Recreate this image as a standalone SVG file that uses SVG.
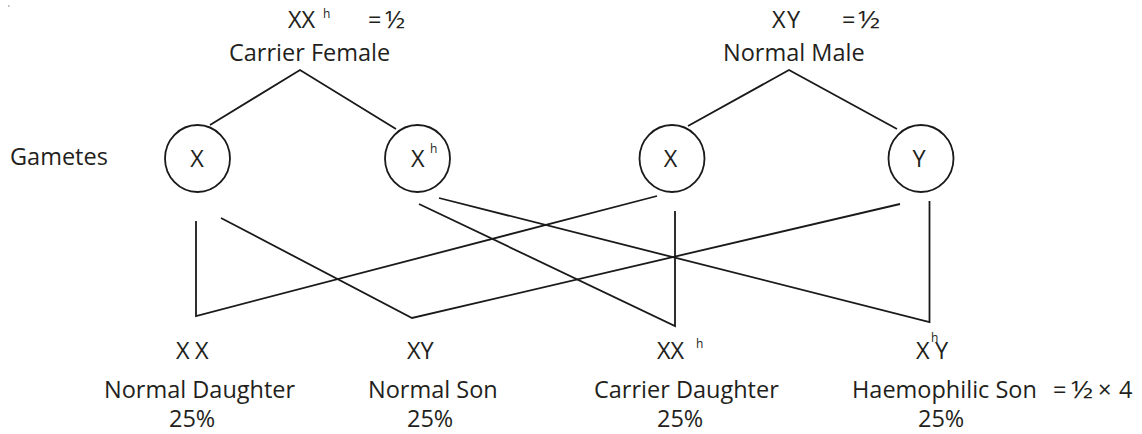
<svg xmlns="http://www.w3.org/2000/svg" width="1142" height="434" viewBox="0 0 1142 434">
<style>
.t{font-family:"Open Sans","Noto Sans",sans-serif;font-size:23.5px;fill:#231f20}
.s{font-family:"Open Sans","Noto Sans",sans-serif;font-size:12px;fill:#231f20}
.c{fill:none;stroke:#1a1a1a;stroke-width:1.8}
.l{fill:none;stroke:#1a1a1a;stroke-width:1.8;stroke-linejoin:miter}
</style>
<rect x="0" y="0" width="1142" height="434" fill="#ffffff"/>
<rect x="8" y="5" width="1.5" height="2" fill="#bbbbbb"/>
<g id="female-parent">
<text class="t" x="288" y="28">XX</text>
<text class="s" x="323" y="18">h</text>
<text class="t" x="368" y="28">=</text>
<text class="t" x="385" y="28" textLength="20" lengthAdjust="spacingAndGlyphs">½</text>
<text class="t" x="229" y="61">Carrier Female</text>
</g>
<g id="male-parent">
<text class="t" x="772" y="28">X</text>
<text class="t" x="787" y="28">Y</text>
<text class="t" x="842" y="28">=</text>
<text class="t" x="858" y="28" textLength="22" lengthAdjust="spacingAndGlyphs">½</text>
<text class="t" x="723" y="61">Normal Male</text>
</g>
<g id="gametes-label">
<text class="t" x="10" y="165">Gametes</text>
</g>
<g id="gamete-x-female">
<ellipse class="c" cx="197.5" cy="158.5" rx="32.5" ry="33.5"/>
<text class="t" x="197" y="167" text-anchor="middle">X</text>
</g>
<g id="gamete-xh-female">
<ellipse class="c" cx="417.5" cy="158.5" rx="32.5" ry="33.5"/>
<text class="t" x="411" y="167">X</text>
<text class="s" x="430" y="153">h</text>
</g>
<g id="gamete-x-male">
<ellipse class="c" cx="672" cy="158.5" rx="32.5" ry="33.5"/>
<text class="t" x="670.5" y="167" text-anchor="middle">X</text>
</g>
<g id="gamete-y-male">
<ellipse class="c" cx="921" cy="158.5" rx="32.5" ry="33.5"/>
<text class="t" x="919" y="167" text-anchor="middle">Y</text>
</g>
<g id="connectors">
<polyline class="l" points="210,125 300,70 396,129"/>
<polyline class="l" points="688,126 789,70 897,129"/>
<polyline class="l" points="196,221 196,316 657,196"/>
<polyline class="l" points="221,218 412,318 900,204"/>
<polyline class="l" points="419,204 675,326 675,211"/>
<polyline class="l" points="439,198 929.5,322 929.5,201"/>
</g>
<g id="normal-daughter">
<text class="t" x="176" y="359">X</text>
<text class="t" x="195" y="359">X</text>
<text class="t" x="104" y="398">Normal Daughter</text>
<text class="t" x="169" y="427">25%</text>
</g>
<g id="normal-son">
<text class="t" x="407" y="359">XY</text>
<text class="t" x="368" y="398">Normal Son</text>
<text class="t" x="407" y="427">25%</text>
</g>
<g id="carrier-daughter">
<text class="t" x="657" y="359">XX</text>
<text class="s" x="696" y="348">h</text>
<text class="t" x="594" y="398">Carrier Daughter</text>
<text class="t" x="657" y="427">25%</text>
</g>
<g id="haemophilic-son">
<text class="t" x="916" y="359">X</text>
<text class="t" x="935" y="359">Y</text>
<text class="s" x="931" y="342">h</text>
<text class="t" x="852" y="398">Haemophilic Son</text>
<text class="t" x="1053" y="398">=</text>
<text class="t" x="1071" y="398" textLength="22" lengthAdjust="spacingAndGlyphs">½</text>
<text class="t" x="1098" y="398">×</text>
<text class="t" x="1119" y="398">4</text>
<text class="t" x="918" y="427">25%</text>
</g>
</svg>
